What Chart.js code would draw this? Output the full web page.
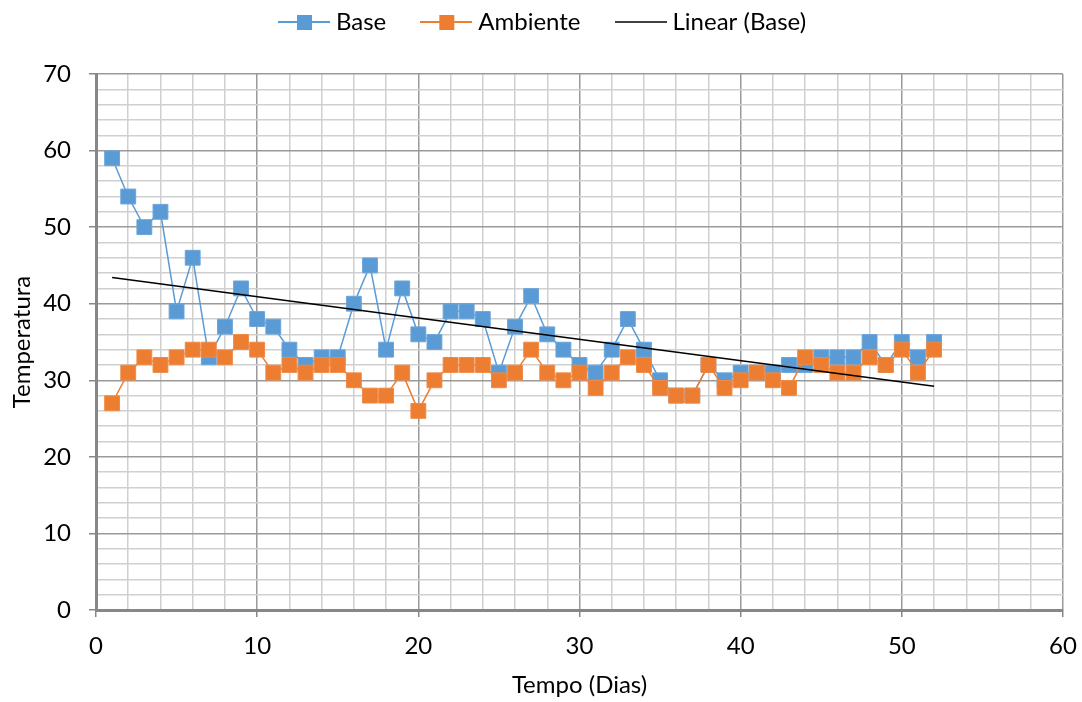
<!DOCTYPE html>
<html>
<head>
<meta charset="utf-8">
<script src="https://cdn.jsdelivr.net/npm/chart.js@4.4.1/dist/chart.umd.min.js"></script>
<style>
  html, body { margin: 0; padding: 0; background: #ffffff; }
  #wrap { width: 1082px; height: 702px; }
</style>
</head>
<body>
<div id="wrap"><canvas id="c" width="1082" height="702"></canvas></div>
<script>
// ---- data ----
const days = [1,2,3,4,5,6,7,8,9,10,11,12,13,14,15,16,17,18,19,20,21,22,23,24,25,26,
              27,28,29,30,31,32,33,34,35,36,37,38,39,40,41,42,43,44,45,46,47,48,49,50,51,52];
const baseTemps = [59,54,50,52,39,46,33,37,42,38,37,34,32,33,33,40,45,34,42,36,35,39,39,38,31,37,
                   41,36,34,32,31,34,38,34,30,28,28,32,30,31,31,31,32,32,33,33,33,35,32,35,33,35];
const ambientTemps = [27,31,33,32,33,34,34,33,35,34,31,32,31,32,32,30,28,28,31,26,30,32,32,32,30,31,
                      34,31,30,31,29,31,33,32,29,28,28,32,29,30,31,30,29,33,32,31,31,33,32,34,31,34];
const seriesNames = ['Base', 'Ambiente', 'Linear (Base)'];
const xTickLabels = [0, 10, 20, 30, 40, 50, 60];
const yTickLabels = [0, 10, 20, 30, 40, 50, 60, 70];

// ---- styles ----
const BLUE = '#5B9BD5', ORANGE = '#ED7D31';
const FONT = 'Lato, "Open Sans", sans-serif';
const PAD_LEFT = 12;

// Linear trend (least squares) of the Base series, like Excel's "Linear (Base)"
function linearFit(xs, ys) {
  const n = xs.length;
  let sx = 0, sy = 0, sxx = 0, sxy = 0;
  for (let i = 0; i < n; i++) { sx += xs[i]; sy += ys[i]; sxx += xs[i]*xs[i]; sxy += xs[i]*ys[i]; }
  const b = (n*sxy - sx*sy) / (n*sxx - sx*sx);
  const a = (sy - b*sx) / n;
  return { a, b };
}
const fit = linearFit(days, baseTemps);
const xFirst = days[0], xLast = days[days.length - 1];
const trendPoints = [{ x: xFirst, y: fit.a + fit.b * xFirst }, { x: xLast, y: fit.a + fit.b * xLast }];

function legendIcon(color, withSquare, lw) {
  const cv = document.createElement('canvas');
  cv.width = 52; cv.height = 18;
  const g = cv.getContext('2d');
  g.strokeStyle = color; g.lineWidth = lw;
  g.beginPath(); g.moveTo(0, 9); g.lineTo(52, 9); g.stroke();
  if (withSquare) { g.fillStyle = color; g.fillRect(19, 2, 15, 15); }
  return cv;
}
const icons = [legendIcon(BLUE, true, 2), legendIcon(ORANGE, true, 2), legendIcon('#000', false, 1.5)];

function isMajor(v) { return Math.abs(v % 10) < 1e-9; }

Chart.defaults.color = '#000';
Chart.defaults.font.family = FONT;

const legendSpacer = {
  id: 'legendSpacer',
  beforeInit(chart) {
    const orig = chart.legend.fit;
    chart.legend.fit = function () { orig.bind(chart.legend)(); this.height = 104; };
  }
};

function gridOpts() {
  return {
    color: c => isMajor(c.tick.value) ? '#9a9a9a' : '#d0d0d0',
    lineWidth: 1.5,
    tickColor: c => isMajor(c.tick.value) ? '#878787' : 'rgba(0,0,0,0)',
    tickLength: 7,
    tickWidth: 1.5,
    drawTicks: true
  };
}

new Chart(document.getElementById('c'), {
  type: 'scatter',
  data: {
    datasets: [
      {
        label: seriesNames[0],
        data: days.map((d, i) => ({ x: d, y: baseTemps[i] })),
        showLine: true,
        borderColor: BLUE, backgroundColor: BLUE, borderWidth: 1.5,
        pointStyle: 'rect', pointRadius: 10.5, pointBorderWidth: 1,
        pointBackgroundColor: BLUE, pointBorderColor: '#6aa5da',
        order: 2
      },
      {
        label: seriesNames[1],
        data: days.map((d, i) => ({ x: d, y: ambientTemps[i] })),
        showLine: true,
        borderColor: ORANGE, backgroundColor: ORANGE, borderWidth: 1.5,
        pointStyle: 'rect', pointRadius: 10.5, pointBorderWidth: 1,
        pointBackgroundColor: ORANGE, pointBorderColor: '#f08a45',
        order: 1
      },
      {
        label: seriesNames[2],
        data: trendPoints,
        showLine: true,
        borderColor: '#000', backgroundColor: '#000', borderWidth: 1.5,
        pointRadius: 0,
        order: 0
      }
    ]
  },
  options: {
    responsive: false,
    devicePixelRatio: 1,
    animation: false,
    layout: { padding: { top: -30, left: PAD_LEFT, right: 4, bottom: 0 } },
    plugins: {
      tooltip: { enabled: false },
      legend: {
        position: 'top',
        align: 'center',
        labels: {
          usePointStyle: true,
          pointStyleWidth: 40,
          padding: 40,
          color: '#000',
          font: { family: FONT, size: 24 },
          sort: (a, b) => a.datasetIndex - b.datasetIndex,
          generateLabels(chart) {
            const items = Chart.defaults.plugins.legend.labels.generateLabels(chart);
            items.forEach(it => { it.pointStyle = icons[it.datasetIndex]; });
            return items;
          }
        }
      }
    },
    scales: {
      x: {
        type: 'linear',
        min: 0, max: 60,
        afterFit: s => { s.height = 92; s.paddingRight = 19; },
        ticks: {
          stepSize: 2, maxTicksLimit: 100, autoSkip: false, maxRotation: 0,
          padding: 15,
          font: { family: FONT, size: 24 },
          color: '#000',
          callback: v => xTickLabels.includes(v) ? String(v) : ''
        },
        grid: gridOpts(),
        border: { color: '#878787', width: 3 },
        title: { display: true, text: 'Tempo (Dias)', font: { family: FONT, size: 24 }, color: '#000', padding: { top: 0, bottom: 2 } }
      },
      y: {
        type: 'linear',
        min: 0, max: 70,
        afterFit: s => { s.width = 96 - PAD_LEFT; },
        ticks: {
          stepSize: 2, maxTicksLimit: 100, autoSkip: false,
          padding: 18,
          font: { family: FONT, size: 24 },
          color: '#000',
          callback: v => yTickLabels.includes(v) ? String(v) : ''
        },
        grid: gridOpts(),
        border: { color: '#878787', width: 3 },
        title: { display: true, text: 'Temperatura', font: { family: FONT, size: 24 }, color: '#000', padding: { top: 8 - PAD_LEFT, bottom: 0 } }
      }
    }
  },
  plugins: [legendSpacer]
});
</script>
</body>
</html>
